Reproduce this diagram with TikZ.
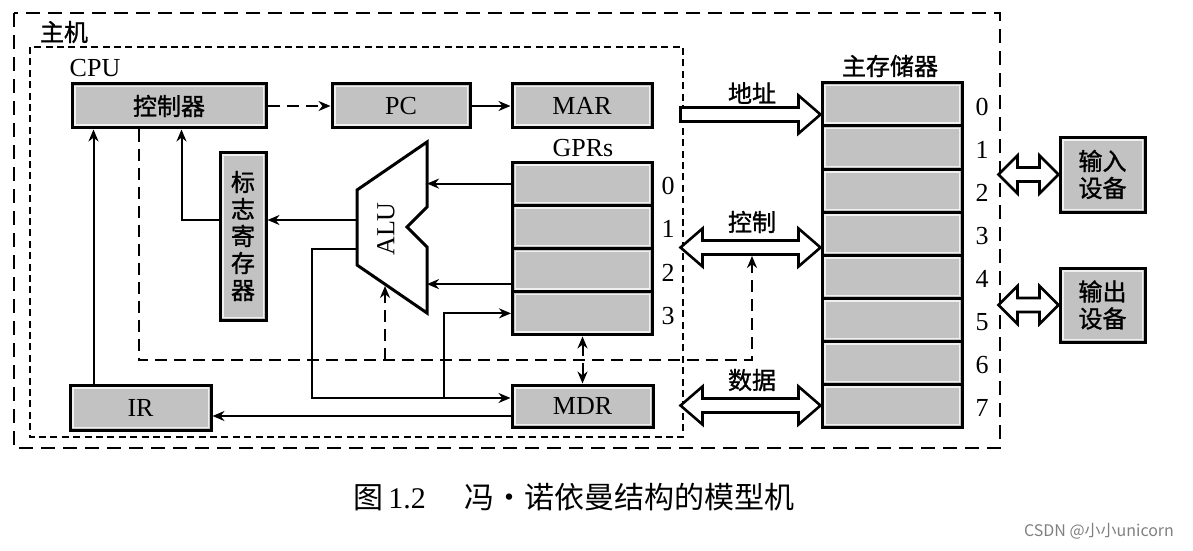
\documentclass[tikz,border=0pt]{standalone}
\usepackage{fontspec}
\setmainfont{Liberation Serif}
\newfontfamily\cjk{Noto Sans CJK SC}
\newfontfamily\cjkb{Noto Sans CJK SC}[FakeBold=1.2]
\usetikzlibrary{arrows.meta}

% hollow bus arrows: #1 right tip, #2 shaft length, #3 head length
\newcommand{\dbus}[3]{%
  \draw[bus] #1 -- ++(-#3,-19) -- ++(0,12) -- ++(-#2,0) -- ++(0,-12) -- ++(-#3,19)
    -- ++(#3,19) -- ++(0,-12) -- ++(#2,0) -- ++(0,12) -- cycle;}

\tikzset{
  box/.style={draw, line width=1.5pt, fill=black!24, inner sep=0pt, font=\fontsize{13}{15}\selectfont,
    path picture={\draw[black!6, line width=0.7pt]
      ([shift={(1.4pt,1.4pt)}]path picture bounding box.south west) rectangle
      ([shift={(-1.4pt,-1.4pt)}]path picture bounding box.north east);}},
  cbox/.style={box, font=\cjkb\fontsize{12}{13.5}\selectfont},
  cell/.style={box, minimum width=70pt, minimum height=21.6pt},
  wire/.style={line width=1pt, >={Stealth[length=6pt,width=5pt]}},
  dwire/.style={wire, dash pattern=on 6pt off 3.5pt},
  bus/.style={draw, line width=1.3pt, fill=white, line join=miter},
  lbl/.style={font=\fontsize{13}{15}\selectfont},
  clbl/.style={font=\cjkb\fontsize{12}{14}\selectfont},
}

\begin{document}
\begin{tikzpicture}[x=0.5pt, y=-0.5pt]
\useasboundingbox (0,0) rectangle (1193,551);

% frames
\draw[line width=1.2pt, dash pattern=on 7pt off 4pt] (14,13) rectangle (1000,448);
\draw[line width=1pt, dash pattern=on 3.5pt off 2.2pt] (30,47) rectangle (683,437);
\node[clbl] (host) at (64,32) {主机};
\node[lbl] (cpu) at (95,68) {CPU};

% CPU registers
\node[cbox, minimum width=97pt, minimum height=22pt] (ctrl) at (169,106) {控制器};
\node[box, minimum width=69pt, minimum height=22pt] (pc) at (401,106) {PC};
\node[box, minimum width=70pt, minimum height=22pt] (mar) at (582,106) {MAR};
\node[cbox, minimum width=23pt, minimum height=84pt, align=center] (flag) at (243,236) {标\\志\\寄\\存\\器};
\node[box, minimum width=70.5pt, minimum height=22.5pt] (ir) at (140.5,407.5) {IR};
\node[box, minimum width=70.5pt, minimum height=21pt] (mdr) at (582.5,406) {MDR};

\node[lbl] (gprs) at (583,148) {GPRs};
\foreach \i in {0,...,3} {
  \node[cell] (g\i) at (582.5,183.6+43.25*\i) {};
  \node[lbl] (gn\i) at (668,186+43.25*\i) {\i};
}

% ALU
\draw[line width=1.5pt, fill=white, line join=miter] (427,142) -- (427,207) -- (407,227)
  -- (427,247) -- (427,313) -- (357,265) -- (357,190) -- cycle;
\node[lbl, rotate=90] (alu) at (386,229) {ALU};
\coordinate (aluR) at (427,0);
\coordinate (aluF) at (357,220);
\coordinate (aluO) at (357,249);
\coordinate (aluB) at (385,286);
\coordinate (g2a) at ([yshift=-7pt]g2.west);
\coordinate (mdrA) at ([yshift=4pt]mdr.west);
\coordinate (mdrB) at ([yshift=-5pt]mdr.west);
\coordinate (br) at (444,0);
\coordinate (dc) at (752,360);
\coordinate (cb) at (752,256);

% data paths
\draw[dwire,->] (ctrl) -- (pc);
\draw[wire,->] (pc) -- (mar);
\draw[wire,->] (g0.west) -- (g0.west -| aluR);
\draw[wire,->] (g2a) -- (g2a -| aluR);
\draw[wire,->] (aluF) -- (aluF -| flag.east);
\draw[wire,->] (aluF -| flag.west) -| ([xshift=55.5pt]ctrl.south west);
\draw[wire,->] ([xshift=12.5pt]ir.north west) -- ([xshift=11.5pt]ctrl.south west);
\draw[wire,->] (aluO) -- ++(-45,0) |- (mdrA);
\draw[wire,->] (mdrA -| br) |- (g3.west);
\draw[wire,->] (mdrB) -- (mdrB -| ir.east);
\draw[dwire,<->] (g3.south) -- (mdr.north);
\draw[dwire,->] ([xshift=34pt]ctrl.south west) |- (dc) -- (cb);
\draw[dwire,->] (aluB |- dc) -- (aluB);

% main memory
\node[clbl] (mem) at (890,66) {主存储器};
\foreach \i in {0,...,7} {
  \node[cell, minimum height=21.5pt] (m\i) at (892,104.5+43*\i) {};
  \node[lbl] (mn\i) at (982,107+43*\i) {\i};
}

% buses
\coordinate (ab) at ([yshift=-5pt]m0.west);
\coordinate (kb) at ([yshift=-7pt]m3.west);
\draw[bus] (ab) -- ++(-22,-19) -- ++(0,12) -- ++(-118,0) -- ++(0,14) -- ++(118,0) -- ++(0,12) -- cycle;
\dbus{(kb)}{96}{22}
\dbus{(m7.west)}{96}{22}
\node[clbl] (addr) at (752,93) {地址};
\node[clbl] (ctl) at (752,222) {控制};
\node[clbl] (dat) at (752,380) {数据};

% I/O
\node[cbox, minimum width=42.5pt, minimum height=37.5pt, align=center] (in) at (1102.5,174.5) {输入\\设备};
\node[cbox, minimum width=42.5pt, minimum height=37pt, align=center] (out) at (1102.5,305) {输出\\设备};
\dbus{(in.west)}{22}{19}
\dbus{(out.west)}{22}{19}

% caption
\node[font=\fontsize{15}{17}\selectfont] (cap) at (574,497) {{\cjk 图}\,1.2\hspace{1.3em}{\cjk 冯・诺依曼结构的模型机}};
\node[font=\cjk\fontsize{8}{9}\selectfont, text=black!50, anchor=east] (wm) at (1181,531) {CSDN @小小unicorn};
\end{tikzpicture}
\end{document}
